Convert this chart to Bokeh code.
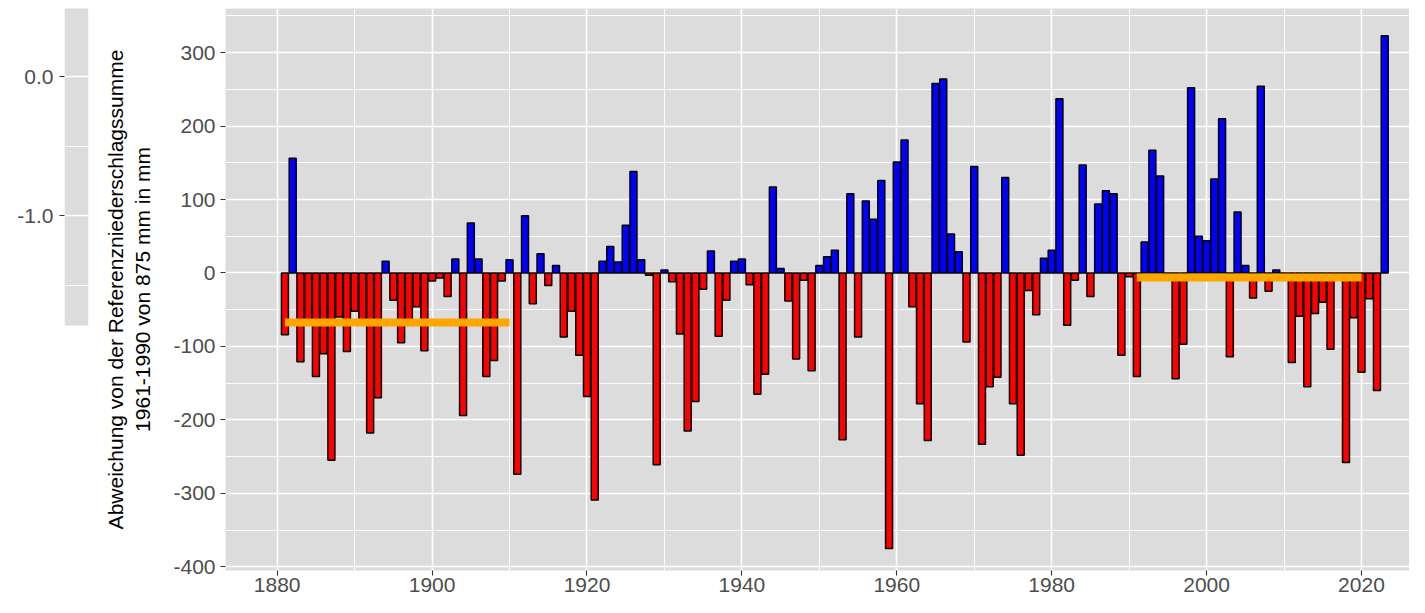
import numpy as np
from bokeh.plotting import figure
from bokeh.models import ColumnDataSource, FixedTicker, Range1d
from bokeh.layouts import row
from bokeh.embed import file_html
from bokeh.resources import INLINE

# ---------------- data ----------------
years = list(range(1881, 2024))
anomaly = [
    # 1881-1910
    -84, 156, -121, -66, -141, -110, -255, -60, -107, -52,
    -66, -218, -170, 16, -37, -95, -66, -46, -106, -11,
    -7, -32, 19, -194, 68, 19, -141, -119, -11, 18,
    # 1911-1940
    -274, 78, -42, 26, -17, 10, -87, -52, -112, -168,
    -309, 16, 36, 15, 65, 138, 18, -3, -261, 4,
    -12, -83, -215, -175, -22, 30, -86, -37, 16, 19,
    # 1941-1970
    -16, -165, -138, 117, 6, -38, -117, -10, -133, 10,
    22, 31, -227, 108, -87, 98, 73, 126, -375, 151,
    181, -46, -178, -228, 258, 264, 53, 29, -94, 145,
    # 1971-2000
    -233, -155, -142, 130, -178, -248, -24, -57, 20, 31,
    237, -71, -10, 147, -32, 94, 112, 108, -112, -5,
    -141, 42, 167, 132, -6, -144, -97, 252, 50, 44,
    # 2001-2023
    128, 210, -114, 83, 10, -34, 254, -25, 4, -5,
    -122, -59, -155, -55, -40, -104, -5, -258, -61, -135,
    -35, -160, 323,
]
assert len(years) == len(anomaly)

period_start = [1881, 1991]
period_end = [1910, 2020]

y_ticks = [-400, -300, -200, -100, 0, 100, 200, 300]
y_tick_labels = ["-400", "-300", "-200", "-100", "0", "100", "200", "300"]
y_minor = [-450, -350, -250, -150, -50, 50, 150, 250, 350]
x_ticks = [1880, 1900, 1920, 1940, 1960, 1980, 2000, 2020]
x_tick_labels = ["1880", "1900", "1920", "1940", "1960", "1980", "2000", "2020"]
x_minor = [1870, 1890, 1910, 1930, 1950, 1970, 1990, 2010, 2030]

# clipped neighbouring panel on the far left
left_ticks = [0.0, -1.0]
left_tick_labels = ["0.0", "-1.0"]
left_minor = [0.5, -0.5, -1.5]
left_panel_bottom = -1.791

y_title = "Abweichung von der Referenzniederschlagssumme\n1961-1990 von 875 mm in mm"

FONT = "Liberation Sans"
PANEL = "#DCDCDC"
TICKCOL = "#4D4D4D"

H = 597
TOP = 8
BOTTOM = 27

# ---------------- left (clipped) panel ----------------
frame_h = H - TOP - BOTTOM
lf_top = 68 / 139.0
lf_bottom = lf_top - frame_h / 139.0
lf = figure(width=92, height=H, x_range=Range1d(0, 1), y_range=Range1d(lf_bottom, lf_top),
            x_axis_location=None, output_backend="svg", toolbar_location=None,
            min_border_left=64, min_border_right=4, min_border_top=TOP, min_border_bottom=BOTTOM)
lf.background_fill_color = "white"
lf.border_fill_color = "white"
lf.outline_line_color = None
lf.quad(left=[0], right=[1], bottom=[left_panel_bottom], top=[5],
        fill_color=PANEL, line_color=None, level="image")
lf.yaxis.ticker = FixedTicker(ticks=left_ticks, minor_ticks=left_minor)
lf.yaxis.major_label_overrides = dict(zip(left_ticks, left_tick_labels))
lf.yaxis.axis_line_color = None
lf.yaxis.minor_tick_line_color = None
lf.yaxis.major_tick_line_color = "#333333"
lf.yaxis.major_tick_line_width = 1.1
lf.yaxis.major_tick_out = 5
lf.yaxis.major_tick_in = 0
lf.yaxis.major_label_standoff = 6
lf.yaxis.major_label_text_font = FONT
lf.yaxis.major_label_text_font_size = "21px"
lf.yaxis.major_label_text_color = TICKCOL
lf.xgrid.grid_line_color = None
lf.ygrid.grid_line_color = "white"
lf.ygrid.grid_line_width = 1.6
lf.ygrid.minor_grid_line_color = "white"
lf.ygrid.minor_grid_line_width = 0.9

# ---------------- main panel ----------------
p = figure(width=1317, height=H, x_range=Range1d(1873.325, 2026.2), y_range=Range1d(-405, 360),
           output_backend="svg", toolbar_location=None,
           min_border_left=133, min_border_right=0, min_border_top=TOP, min_border_bottom=BOTTOM)
p.background_fill_color = PANEL
p.border_fill_color = "white"
p.outline_line_color = None

colors = ["#0000FF" if v > 0 else "#FF0000" for v in anomaly]
src = ColumnDataSource(dict(x=years, top=anomaly, color=colors))
p.vbar(x="x", top="top", bottom=0, width=0.9, fill_color="color",
       line_color="black", line_width=1.5, source=src)

means = []
for s, e in zip(period_start, period_end):
    vals = [v for y, v in zip(years, anomaly) if s <= y <= e]
    means.append(float(np.mean(vals)))
p.segment(x0=period_start, x1=period_end, y0=means, y1=means,
          line_color="#FFA500", line_width=8, line_cap="butt")

p.xaxis.ticker = FixedTicker(ticks=x_ticks, minor_ticks=x_minor)
p.yaxis.ticker = FixedTicker(ticks=y_ticks, minor_ticks=y_minor)
p.xaxis.major_label_overrides = dict(zip(x_ticks, x_tick_labels))
p.yaxis.major_label_overrides = dict(zip(y_ticks, y_tick_labels))

for ax in (p.xaxis, p.yaxis):
    ax.axis_line_color = None
    ax.minor_tick_line_color = None
    ax.major_tick_line_color = "#333333"
    ax.major_tick_line_width = 1.1
    ax.major_tick_out = 5
    ax.major_tick_in = 0
    ax.major_label_text_font = FONT
    ax.major_label_text_font_size = "21px"
    ax.major_label_text_color = TICKCOL
p.xaxis.major_label_standoff = 2
p.yaxis.major_label_standoff = 5

p.yaxis.axis_label = y_title
p.yaxis.axis_label_text_font = FONT
p.yaxis.axis_label_text_font_size = "21px"
p.yaxis.axis_label_text_font_style = "normal"
p.yaxis.axis_label_text_color = "black"
p.yaxis.axis_label_standoff = 16

for g in (p.xgrid, p.ygrid):
    g.grid_line_color = "white"
    g.grid_line_width = 1.6
    g.minor_grid_line_color = "white"
    g.minor_grid_line_width = 0.9

layout = row(lf, p)
open("out.html", "w").write(file_html(layout, INLINE))
